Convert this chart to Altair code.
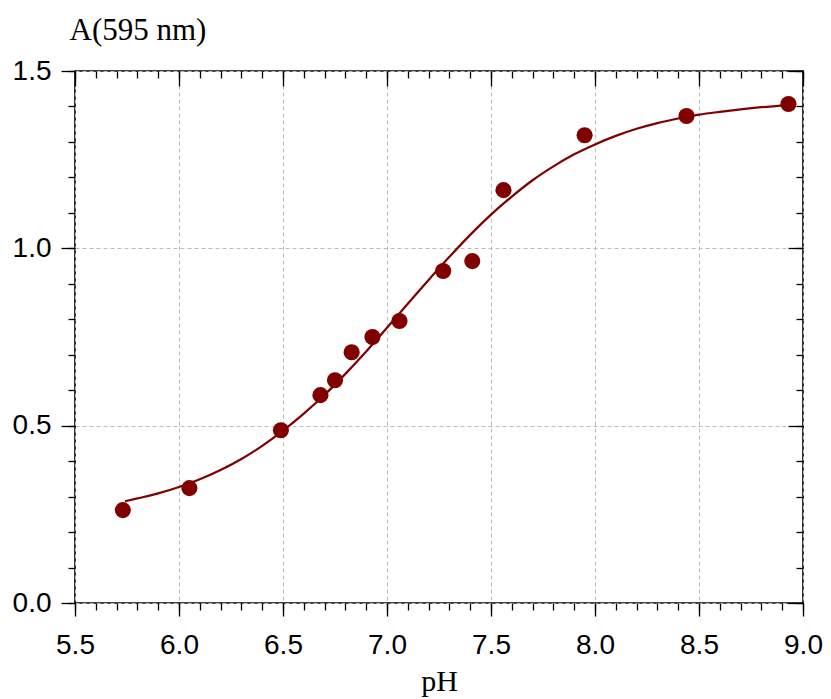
import altair as alt
import pandas as pd

# measured points
ph_points = [5.73, 6.05, 6.49, 6.68, 6.75, 6.83, 6.93, 7.06, 7.27, 7.41, 7.56, 7.95, 8.44, 8.93]
abs_points = [0.262, 0.324, 0.487, 0.586, 0.628, 0.707, 0.750, 0.795, 0.936, 0.964, 1.164, 1.319, 1.373, 1.407]

# fitted curve
ph_curve = [5.74, 5.8, 5.9, 6.0, 6.1, 6.2, 6.3, 6.4, 6.5, 6.6, 6.7, 6.8, 6.9, 7.0, 7.1, 7.2,
            7.3, 7.4, 7.5, 7.6, 7.7, 7.8, 7.9, 8.0, 8.1, 8.2, 8.3, 8.4, 8.5, 8.6, 8.7, 8.8, 8.93]
abs_curve = [0.287, 0.295, 0.309, 0.327, 0.349, 0.375, 0.406, 0.443, 0.486, 0.534, 0.587,
             0.646, 0.709, 0.776, 0.844, 0.911, 0.976, 1.038, 1.095, 1.146, 1.192, 1.231,
             1.265, 1.293, 1.317, 1.337, 1.353, 1.366, 1.377, 1.385, 1.392, 1.398, 1.404]

x_major = [5.5, 6.0, 6.5, 7.0, 7.5, 8.0, 8.5, 9.0]
x_minor = [round(5.5 + 0.1 * i, 1) for i in range(36)]
y_major = [0.0, 0.5, 1.0, 1.5]
y_minor = [round(0.1 * i, 1) for i in range(16)]

pts = pd.DataFrame({"pH": ph_points, "A": abs_points})
curve = pd.DataFrame({"pH": ph_curve, "A": abs_curve})

RED = "#800000"
SANS = "Liberation Sans"
SERIF = "Liberation Serif"
xs = alt.Scale(domain=[5.5, 9.0], nice=False, zero=False)
ys = alt.Scale(domain=[0.0, 1.5], nice=False, zero=False)

common = dict(domain=False, tickColor="black", tickWidth=1.3)
grid = dict(grid=True, gridColor="#bbbbbb", gridDash=[4, 3], gridWidth=1)

# layer 1: major bottom / left axes with labels, grid and titles
ax_x1 = alt.Axis(orient="bottom", values=x_major, tickSize=13, format=".1f",
                 labelFont=SANS, labelFontSize=28, labelColor="black", labelPadding=15,
                 labelFlush=False, labelOverlap=False,
                 title="pH", titleFont=SERIF, titleFontSize=30, titleFontWeight="normal",
                 titleColor="black", titleBaseline="alphabetic", titleY=87,
                 **grid, **common)
ax_y1 = alt.Axis(orient="left", values=y_major, tickSize=14, format=".1f",
                 labelFont=SANS, labelFontSize=28, labelColor="black", labelPadding=10,
                 labelFlush=False, labelOverlap=False,
                 title="A(595 nm)", titleFont=SERIF, titleFontSize=31, titleFontWeight="normal",
                 titleColor="black", titleAngle=0, titleAlign="left", titleBaseline="alphabetic",
                 titleX=-6, titleY=-32, **grid, **common)

points = alt.Chart(pts).mark_circle(color=RED, size=260, opacity=1).encode(
    x=alt.X("pH:Q", scale=xs, axis=ax_x1),
    y=alt.Y("A:Q", scale=ys, axis=ax_y1),
)

# layer 2: minor bottom / left
ax_x2 = alt.Axis(orient="bottom", values=x_minor, tickSize=7, labels=False, title=None,
                 grid=False, **common)
ax_y2 = alt.Axis(orient="left", values=y_minor, tickSize=7, labels=False, title=None,
                 grid=False, **common)
line = alt.Chart(curve).mark_line(color=RED, strokeWidth=2.2, interpolate="monotone").encode(
    x=alt.X("pH:Q", scale=xs, axis=ax_x2),
    y=alt.Y("A:Q", scale=ys, axis=ax_y2),
)

# layer 3: major top / right, inward
ax_x3 = alt.Axis(orient="top", values=x_major, tickSize=15, offset=-15, labels=False,
                 title=None, grid=False, **common)
ax_y3 = alt.Axis(orient="right", values=y_major, tickSize=15, offset=-15, labels=False,
                 title=None, grid=False, **common)
top_major = alt.Chart(pts).mark_circle(opacity=0).encode(
    x=alt.X("pH:Q", scale=xs, axis=ax_x3),
    y=alt.Y("A:Q", scale=ys, axis=ax_y3),
)

# layer 4: minor top / right, inward
ax_x4 = alt.Axis(orient="top", values=x_minor, tickSize=7, offset=-7, labels=False,
                 title=None, grid=False, **common)
ax_y4 = alt.Axis(orient="right", values=y_minor, tickSize=7, offset=-7, labels=False,
                 title=None, grid=False, **common)
top_minor = alt.Chart(pts).mark_circle(opacity=0).encode(
    x=alt.X("pH:Q", scale=xs, axis=ax_x4),
    y=alt.Y("A:Q", scale=ys, axis=ax_y4),
)

chart = alt.layer(top_major, top_minor, line, points).resolve_axis(
    x="independent", y="independent"
).properties(
    width=728, height=532,
    autosize=alt.AutoSizeParams(type="none"),
    padding={"left": 67, "top": 63, "right": 20, "bottom": 96},
    background="white",
).configure_view(stroke="black", strokeWidth=1.6)

chart.save("out.html", embed_options={"renderer": "svg", "actions": False})
